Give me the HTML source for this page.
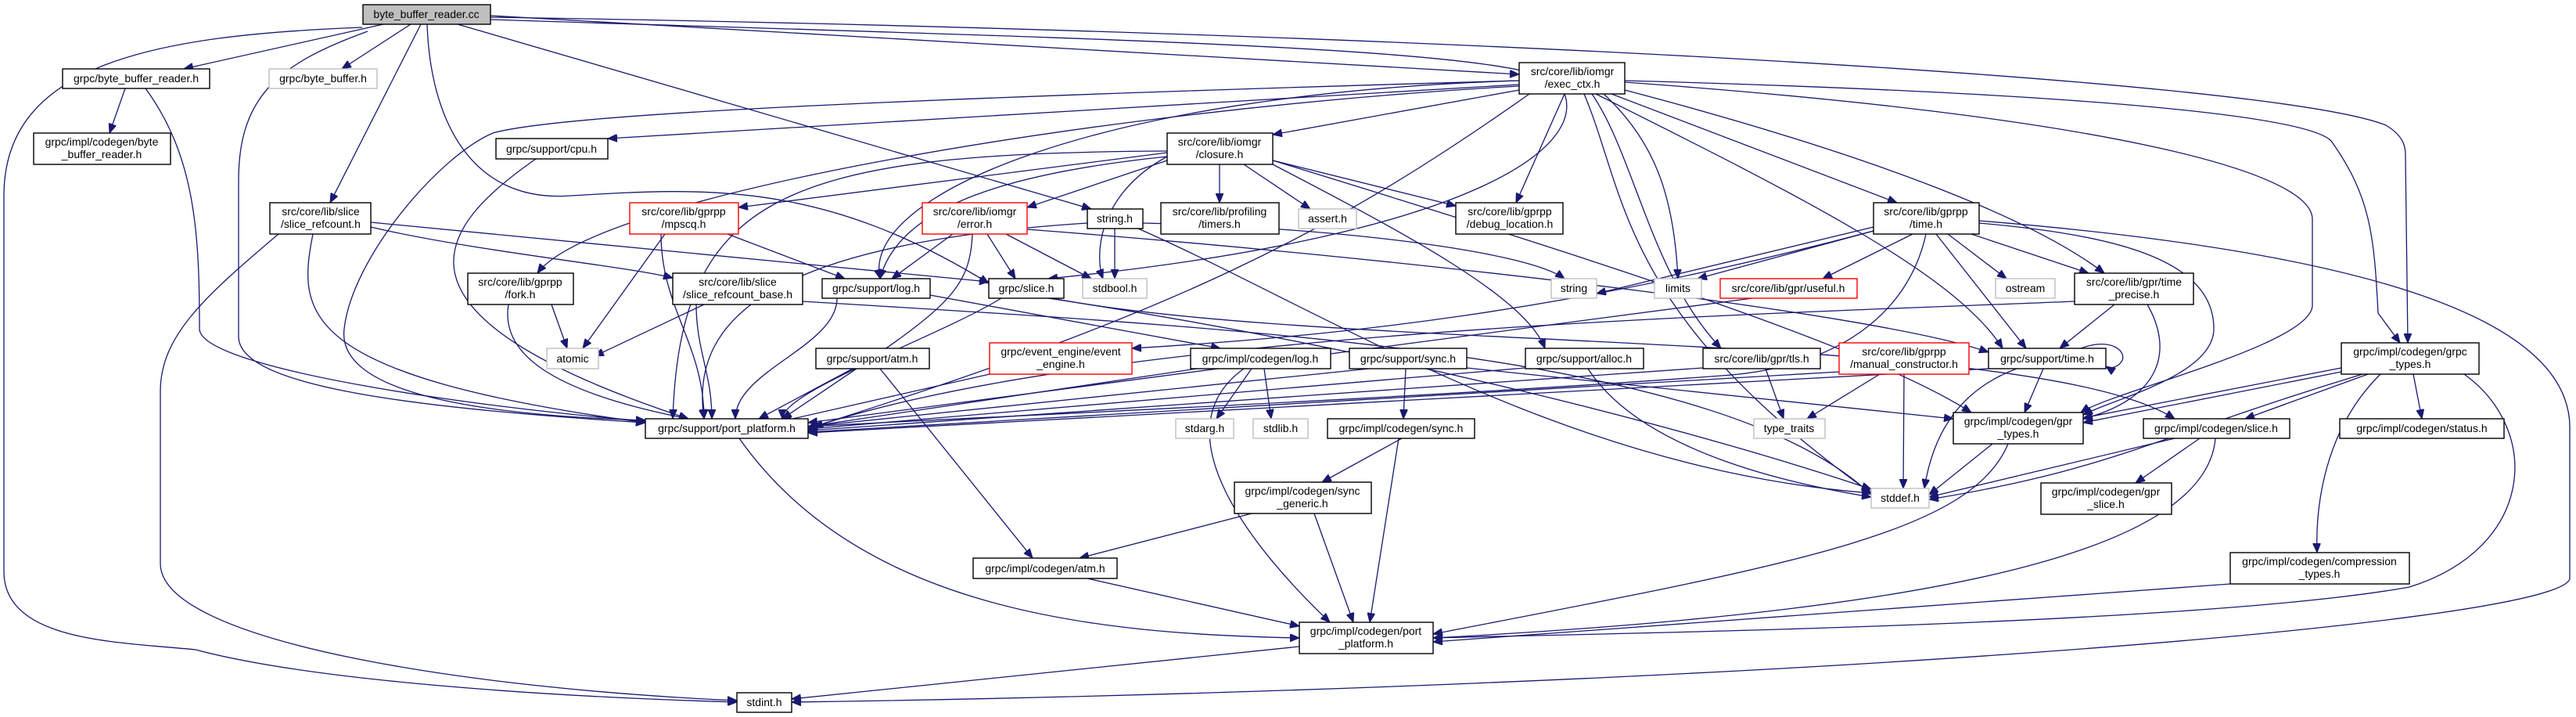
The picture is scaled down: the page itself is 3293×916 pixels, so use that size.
<!DOCTYPE html>
<html><head><meta charset="utf-8"><style>
html,body{margin:0;padding:0;background:#fff;}
svg{display:block;}
text{font-family:"Liberation Sans","DejaVu Sans",sans-serif;font-size:14px;fill:#000;text-anchor:middle;}
.n{fill:#fff;stroke:#000;stroke-width:1.4;}
.g{fill:#fff;stroke:#bfbfbf;stroke-width:1.4;}
.r{fill:#fff;stroke:#ff0000;stroke-width:1.4;}
.root{fill:#bfbfbf;stroke:#000;stroke-width:1.4;}
#edges path{fill:none;stroke:#191970;stroke-width:1.3;}
</style></head><body>
<svg id="s" width="3293" height="916" viewBox="0 0 3293 916" xmlns="http://www.w3.org/2000/svg">
<defs><marker id="a" markerUnits="userSpaceOnUse" markerWidth="14" markerHeight="10" refX="12" refY="5" orient="auto"><path d="M0,0 L12,5 L0,10 z" fill="#191970" stroke="#191970"/></marker></defs>
<g id="edges"></g>
<g id="nodes">
<rect class="root" x="464" y="6" width="163" height="25"/><text x="545" y="23">byte_buffer_reader.cc</text>
<rect class="n" x="80" y="88" width="188" height="25"/><text x="174" y="105">grpc/byte_buffer_reader.h</text>
<rect class="n" x="43" y="170" width="175" height="40"/><text x="130" y="186">grpc/impl/codegen/byte</text><text x="130" y="202">_buffer_reader.h</text>
<rect class="g" x="344" y="88" width="138" height="25"/><text x="413" y="105">grpc/byte_buffer.h</text>
<rect class="n" x="634" y="177" width="143" height="26"/><text x="705" y="195">grpc/support/cpu.h</text>
<rect class="n" x="345" y="259" width="129" height="40"/><text x="410" y="275">src/core/lib/slice</text><text x="410" y="291">/slice_refcount.h</text>
<rect class="n" x="598" y="349" width="135" height="40"/><text x="665" y="365">src/core/lib/gprpp</text><text x="665" y="381">/fork.h</text>
<rect class="g" x="699" y="445" width="66" height="26"/><text x="732" y="463">atomic</text>
<rect class="r" x="805" y="259" width="139" height="40"/><text x="874" y="275">src/core/lib/gprpp</text><text x="874" y="291">/mpscq.h</text>
<rect class="r" x="1179" y="259" width="134" height="40"/><text x="1246" y="275">src/core/lib/iomgr</text><text x="1246" y="291">/error.h</text>
<rect class="n" x="1390" y="267" width="71" height="25"/><text x="1425" y="284">string.h</text>
<rect class="n" x="1484" y="259" width="151" height="40"/><text x="1559" y="275">src/core/lib/profiling</text><text x="1559" y="291">/timers.h</text>
<rect class="n" x="1492" y="170" width="135" height="40"/><text x="1559" y="186">src/core/lib/iomgr</text><text x="1559" y="202">/closure.h</text>
<rect class="n" x="860" y="349" width="166" height="40"/><text x="943" y="365">src/core/lib/slice</text><text x="943" y="381">/slice_refcount_base.h</text>
<rect class="n" x="1051" y="356" width="138" height="25"/><text x="1120" y="373">grpc/support/log.h</text>
<rect class="n" x="1264" y="356" width="96" height="25"/><text x="1312" y="373">grpc/slice.h</text>
<rect class="g" x="1384" y="356" width="82" height="25"/><text x="1425" y="373">stdbool.h</text>
<rect class="n" x="1043" y="445" width="145" height="26"/><text x="1115" y="463">grpc/support/atm.h</text>
<rect class="r" x="1265" y="438" width="182" height="40"/><text x="1356" y="454">grpc/event_engine/event</text><text x="1356" y="470">_engine.h</text>
<rect class="n" x="1522" y="445" width="179" height="26"/><text x="1611" y="463">grpc/impl/codegen/log.h</text>
<rect class="n" x="1942" y="80" width="135" height="40"/><text x="2010" y="96">src/core/lib/iomgr</text><text x="2010" y="112">/exec_ctx.h</text>
<rect class="g" x="1660" y="267" width="74" height="25"/><text x="1697" y="284">assert.h</text>
<rect class="n" x="1861" y="259" width="137" height="40"/><text x="1930" y="275">src/core/lib/gprpp</text><text x="1930" y="291">/debug_location.h</text>
<rect class="g" x="1983" y="356" width="58" height="25"/><text x="2012" y="373">string</text>
<rect class="g" x="2115" y="356" width="60" height="25"/><text x="2145" y="373">limits</text>
<rect class="r" x="2199" y="356" width="175" height="25"/><text x="2286" y="373">src/core/lib/gpr/useful.h</text>
<rect class="n" x="2395" y="259" width="135" height="40"/><text x="2462" y="275">src/core/lib/gprpp</text><text x="2462" y="291">/time.h</text>
<rect class="n" x="1725" y="445" width="150" height="26"/><text x="1800" y="463">grpc/support/sync.h</text>
<rect class="n" x="1950" y="445" width="151" height="26"/><text x="2025" y="463">grpc/support/alloc.h</text>
<rect class="n" x="2177" y="445" width="150" height="26"/><text x="2252" y="463">src/core/lib/gpr/tls.h</text>
<rect class="r" x="2351" y="438" width="166" height="40"/><text x="2434" y="454">src/core/lib/gprpp</text><text x="2434" y="470">/manual_constructor.h</text>
<rect class="g" x="2551" y="356" width="76" height="25"/><text x="2589" y="373">ostream</text>
<rect class="n" x="2652" y="349" width="152" height="40"/><text x="2728" y="365">src/core/lib/gpr/time</text><text x="2728" y="381">_precise.h</text>
<rect class="n" x="2542" y="445" width="150" height="26"/><text x="2617" y="463">grpc/support/time.h</text>
<rect class="n" x="2993" y="438" width="176" height="40"/><text x="3081" y="454">grpc/impl/codegen/grpc</text><text x="3081" y="470">_types.h</text>
<rect class="n" x="825" y="535" width="208" height="25"/><text x="929" y="552">grpc/support/port_platform.h</text>
<rect class="g" x="1503" y="535" width="74" height="25"/><text x="1540" y="552">stdarg.h</text>
<rect class="g" x="1602" y="535" width="70" height="25"/><text x="1637" y="552">stdlib.h</text>
<rect class="n" x="1244" y="713" width="184" height="26"/><text x="1336" y="731">grpc/impl/codegen/atm.h</text>
<rect class="n" x="942" y="885" width="70" height="25"/><text x="977" y="902">stdint.h</text>
<rect class="n" x="1578" y="616" width="175" height="40"/><text x="1665" y="632">grpc/impl/codegen/sync</text><text x="1665" y="648">_generic.h</text>
<rect class="n" x="1697" y="535" width="188" height="25"/><text x="1791" y="552">grpc/impl/codegen/sync.h</text>
<rect class="g" x="2242" y="535" width="91" height="25"/><text x="2287" y="552">type_traits</text>
<rect class="g" x="2392" y="624" width="74" height="25"/><text x="2429" y="641">stddef.h</text>
<rect class="n" x="1661" y="795" width="171" height="40"/><text x="1746" y="811">grpc/impl/codegen/port</text><text x="1746" y="827">_platform.h</text>
<rect class="n" x="2497" y="527" width="166" height="40"/><text x="2580" y="543">grpc/impl/codegen/gpr</text><text x="2580" y="559">_types.h</text>
<rect class="n" x="2740" y="535" width="187" height="25"/><text x="2833" y="552">grpc/impl/codegen/slice.h</text>
<rect class="n" x="2991" y="535" width="210" height="25"/><text x="3096" y="552">grpc/impl/codegen/status.h</text>
<rect class="n" x="2609" y="617" width="167" height="40"/><text x="2692" y="633">grpc/impl/codegen/gpr</text><text x="2692" y="649">_slice.h</text>
<rect class="n" x="2851" y="706" width="229" height="40"/><text x="2965" y="722">grpc/impl/codegen/compression</text><text x="2965" y="738">_types.h</text>
</g>
</svg>
<script>
var G=document.getElementById('edges'),NS='http://www.w3.org/2000/svg';
function p(d){var e=document.createElementNS(NS,'path');e.setAttribute('d',d);e.setAttribute('marker-end','url(#a)');G.appendChild(e);}
function e(x1,y1,x2,y2){var dy=y2-y1;p('M'+x1+','+y1+' C'+x1+','+(y1+dy*0.4)+' '+x2+','+(y2-dy*0.4)+' '+x2+','+y2);}
function l(x1,y1,x2,y2){p('M'+x1+','+y1+' L'+x2+','+y2);}
l(490,31,235,88);l(525,31,437,88);l(538,31,422,259);
p('M463,35 C200,45 5,80 5,250 L5,730 C5,820 150,820 250,830 C400,870 700,890 942,897');
p('M470,40 C360,80 305,120 305,230 L305,430 C305,490 500,520 825,540');
l(627,20,1942,95);l(585,31,1395,267);
p('M546,31 C550,150 600,260 730,250 C900,240 1050,230 1264,362');
p('M627,25 C1400,50 1960,60 1995,110 C2040,180 1900,300 1340,356');
p('M627,22 C1800,40 2900,100 3050,160 C3075,175 3075,190 3075,200 L3078,438');
l(1942,108,777,177);l(1942,115,1627,172);l(2000,120,1938,259);
p('M2050,120 C2115,180 2140,250 2145,356');l(2060,120,2425,259);
p('M2077,115 C2400,200 2600,280 2690,349');
p('M2077,105 C2700,150 2956,220 2956,280 L2956,390 C2956,440 2700,500 2660,527');
p('M2077,103 C2700,120 2950,150 2980,180 C3030,250 3035,300 3040,400 L3068,438');
p('M1942,103 C1400,120 1100,250 1125,356');
p('M1942,103 C1000,130 700,150 630,170 C560,200 450,330 440,420 C430,500 600,530 825,537');
p('M1942,110 C1400,140 760,250 687,349');
p('M2035,120 C2090,200 2110,350 2200,445');
p('M2025,120 C2080,250 2070,400 2392,630');
p('M2040,120 C2300,250 2500,350 2560,445');
p('M1955,120 C1700,300 1500,400 1040,545');
l(1492,195,944,265);l(1492,205,1313,265);l(1559,210,1559,259);l(1590,210,1675,267);l(1627,205,1861,263);
p('M1492,200 C1300,220 1150,260 1125,356');p('M1492,200 C1400,250 1400,330 1410,356');
p('M1627,210 C1800,300 1950,380 1975,445');p('M1627,205 C2100,350 2400,450 2520,527');
p('M1492,193 C1000,195 870,250 860,535');
l(930,299,1080,356);l(850,299,745,445);e(845,299,900,535);
l(1218,299,1140,356);l(1262,299,1298,356);l(1286,299,1395,356);
p('M1243,299 C1240,380 1200,400 1000,535');p('M1313,293 C1800,330 2400,400 2542,450');
l(1425,292,1425,356);p('M1455,292 C1700,400 2000,600 2392,630');
p('M1390,285 C1000,310 880,400 900,535');p('M1461,285 C1700,290 1950,320 2000,356');
l(705,389,725,445);p('M650,389 C640,450 700,500 880,535');
l(900,389,760,455);e(890,389,910,535);p('M1026,385 C1600,420 2200,450 2392,632');
e(1070,381,940,535);l(1189,377,1560,445);
p('M1280,381 C1200,430 1000,500 1000,535');p('M1345,381 C1700,450 2600,420 2780,535');p('M1340,381 C1800,450 2200,560 2392,625');
l(1090,471,970,535);l(1125,471,1320,713);l(1265,478,1000,538);
l(1600,471,1555,535);l(1616,471,1625,535);l(1530,471,1033,545);p('M1590,471 C1480,550 1600,700 1700,795');
l(1750,471,1033,545);l(1797,471,1794,535);l(1875,470,2497,535);
l(1950,470,1033,548);p('M2030,471 C2100,580 2300,620 2392,635');
l(2177,470,1033,550);l(2257,471,2280,535);
l(2351,475,1033,552);l(2403,478,2310,535);l(2434,478,2433,624);
l(2395,290,2041,375);l(2395,295,2170,356);l(2445,299,2330,356);l(2490,299,2565,356);l(2520,299,2670,349);l(2475,299,2590,445);
p('M2530,285 C2700,300 2830,330 2830,420 C2830,480 2700,510 2663,530');
p('M2530,282 C3000,320 3290,400 3285,550 L3285,740 C3260,800 2200,880 1012,897');
p('M2462,299 C2440,400 2350,470 2200,480 C1800,510 1200,535 1033,545');
p('M2395,295 C2000,400 1700,430 1447,445');
l(2240,381,1033,540);
l(2703,389,2633,445);p('M2745,389 C2780,450 2760,510 2663,535');p('M2652,385 C2300,400 1400,420 1033,548');
p('M2660,445 C2700,430 2720,450 2712,462 C2705,472 2695,470 2692,468');
l(2612,471,2588,527);l(2542,471,1033,553);p('M2578,471 C2500,500 2470,560 2460,624');
l(2993,475,2663,540);l(2993,470,2663,534);l(3027,478,2870,535);l(3085,478,3096,535);
p('M3043,478 C2970,550 2960,650 2962,706');p('M3020,478 C2750,560 2700,600 2466,638');
p('M3150,478 C3250,550 3240,700 3080,750 C2800,800 2000,810 1832,815');
l(2547,567,2466,632);p('M2567,567 C2520,680 2300,720 1832,810');
l(2780,560,2466,635);l(2812,560,2730,617);p('M2832,560 C2820,700 2500,780 1832,815');
l(2851,746,1832,820);
l(1792,560,1690,616);l(1788,560,1751,795);l(1600,656,1380,713);l(1680,656,1730,795);
l(1390,739,1661,800);p('M945,560 C1100,780 1400,810 1661,815');l(1661,826,1012,893);
p('M685,203 C560,290 470,400 880,535');
p('M474,290 C600,320 800,340 860,355');l(474,284,1264,360);
p('M400,299 C380,400 380,480 825,540');
p('M356,299 C260,380 205,430 205,500 L205,720 C205,820 600,880 942,895');
l(160,113,140,170);
p('M186,113 C250,200 255,300 255,420 C255,470 600,520 825,538');
</script>
</body></html>
